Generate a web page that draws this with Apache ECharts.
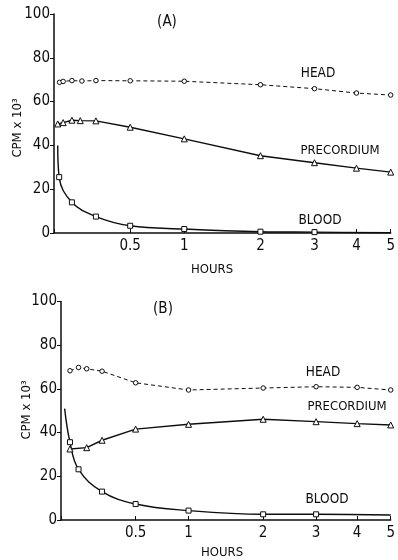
<!DOCTYPE html>
<html>
<head>
<meta charset="utf-8">
<script src="https://cdn.jsdelivr.net/npm/echarts@6/dist/echarts.min.js"></script>
<style>
  html, body { margin: 0; padding: 0; background: #fff; }
  #chart { width: 398px; height: 560px; }
</style>
</head>
<body>
<div id="chart"></div>
<script>
// hours after injection; x axis is log(1 + hours)
const tickHours = [0, 0.5, 1, 2, 3, 4, 5];
const labelHours = [0.5, 1, 2, 3, 4, 5];
const yTicks = [0, 20, 40, 60, 80, 100];

// panel (A)
const hoursHeadA = [0.03, 0.05, 0.1, 0.16, 0.25, 0.5, 1, 2, 3, 4, 5];
const headA = [68.8, 69.2, 69.6, 69.4, 69.6, 69.5, 69.3, 67.7, 65.9, 63.9, 63.0];
const hoursPreA = [0.02, 0.05, 0.1, 0.15, 0.25, 0.5, 1, 2, 3, 4, 5];
const precordiumA = [49.8, 50.4, 51.5, 51.3, 51.2, 48.3, 43.0, 35.3, 32.1, 29.6, 27.8];
const hoursBloodA = [0.028, 0.1, 0.25, 0.5, 1, 2, 3];
const bloodA = [25.5, 14.0, 7.5, 3.3, 1.8, 0.6, 0.4];
const bloodStartA = [0.02, 40];
const bloodEndA = [5, 0.1];

// panel (B)
const hoursHeadB = [0.05, 0.1, 0.15, 0.25, 0.5, 1, 2, 3, 4, 5];
const headB = [68.3, 69.8, 69.2, 68.1, 62.8, 59.5, 60.4, 61.0, 60.7, 59.5];
const hoursPreB = [0.05, 0.15, 0.25, 0.5, 1, 2, 3, 4, 5];
const precordiumB = [32.5, 33.1, 36.5, 41.6, 43.8, 46.1, 45.0, 44.1, 43.5];
const hoursBloodB = [0.05, 0.1, 0.25, 0.5, 1, 2, 3];
const bloodB = [35.6, 23.2, 13.0, 7.3, 4.3, 2.6, 2.6];
const bloodStartB = [0.02, 51];
const bloodEndB = [5, 2.3];

const ink = '#0d0d0d';
const font = '"DejaVu Sans Condensed", "Liberation Sans Narrow", sans-serif';

function pts(hours, vals) {
  return hours.map((h, i) => [1 + h, vals[i]]);
}

function bloodData(start, hours, vals, end) {
  const bare = p => ({ value: [1 + p[0], p[1]], symbol: 'none' });
  return [bare(start)].concat(pts(hours, vals)).concat([bare(end)]);
}

function xAxis(gi) {
  return {
    type: 'log', logBase: 10, gridIndex: gi, min: 1, max: 6,
    axisLine: { lineStyle: { color: ink, width: 1.5 } },
    axisTick: { inside: true, length: 4, lineStyle: { color: ink }, customValues: tickHours.map(h => 1 + h) },
    axisLabel: {
      customValues: labelHours.map(h => 1 + h),
      formatter: v => String(+(v - 1).toFixed(2)),
      color: ink, fontSize: 15, fontFamily: font, margin: 6
    },
    splitLine: { show: false },
    minorTick: { show: false }
  };
}

function yAxis(gi) {
  return {
    type: 'value', gridIndex: gi, min: 0, max: 100, interval: 20,
    axisLine: { show: true, lineStyle: { color: ink, width: 1.5 } },
    axisTick: { show: true, length: 4, lineStyle: { color: ink } },
    axisLabel: { color: ink, fontSize: 15, fontFamily: font, margin: 4 },
    splitLine: { show: false }
  };
}

function series(gi, head, pre, blood) {
  const common = { xAxisIndex: gi, yAxisIndex: gi, type: 'line', animation: false, z: 3 };
  const mark = { color: '#fff', borderColor: ink, borderWidth: 1 };
  return [
    Object.assign({}, common, {
      name: 'HEAD', data: head, symbol: 'circle', symbolSize: 4.5,
      lineStyle: { color: ink, width: 1, type: [4, 3] }, itemStyle: mark
    }),
    Object.assign({}, common, {
      name: 'PRECORDIUM', data: pre, symbol: 'triangle', symbolSize: 6,
      lineStyle: { color: ink, width: 1.4 }, itemStyle: mark
    }),
    Object.assign({}, common, {
      name: 'BLOOD', data: blood, symbol: 'rect', symbolSize: 5, smooth: 0.4,
      lineStyle: { color: ink, width: 1.4 }, itemStyle: mark
    })
  ];
}

function text(x, y, str, size, rot) {
  return {
    type: 'text', x: x, y: y, rotation: rot || 0,
    style: { text: str, fill: ink, font: size + 'px ' + font, align: 'center', verticalAlign: 'middle' }
  };
}

const chart = echarts.init(document.getElementById('chart'));
chart.setOption({
  backgroundColor: '#fff',
  animation: false,
  grid: [
    { left: 54, top: 14, width: 339, height: 219 },
    { left: 61, top: 301.5, width: 335.5, height: 218.5 }
  ],
  xAxis: [xAxis(0), xAxis(1)],
  yAxis: [yAxis(0), yAxis(1)],
  series: series(0, pts(hoursHeadA, headA), pts(hoursPreA, precordiumA),
                 bloodData(bloodStartA, hoursBloodA, bloodA, bloodEndA))
    .concat(series(1, pts(hoursHeadB, headB), pts(hoursPreB, precordiumB),
                   bloodData(bloodStartB, hoursBloodB, bloodB, bloodEndB))),
  graphic: [
    text(167, 22, '(A)', 15),
    text(318, 73, 'HEAD', 13.5),
    text(340, 151, 'PRECORDIUM', 13),
    text(320, 220, 'BLOOD', 13.5),
    text(212, 270, 'HOURS', 13),
    text(18, 128, 'CPM x 10³', 13, Math.PI / 2),
    text(163, 309, '(B)', 15),
    text(323, 372, 'HEAD', 13.5),
    text(347, 407, 'PRECORDIUM', 13),
    text(327, 499, 'BLOOD', 13.5),
    text(222, 553, 'HOURS', 13),
    text(27, 410, 'CPM x 10³', 13, Math.PI / 2)
  ]
});
</script>
</body>
</html>
